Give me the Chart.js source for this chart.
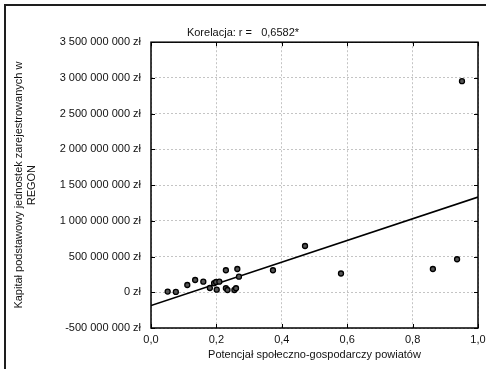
<!DOCTYPE html>
<html>
<head>
<meta charset="utf-8">
<script src="https://cdn.jsdelivr.net/npm/chart.js@4"></script>
<style>
  html, body { margin: 0; padding: 0; background: #fff; overflow: hidden; }
  #wrap { position: relative; width: 486px; height: 369px; }
  #frame {
    position: absolute; left: 4px; top: 4px; width: 600px; height: 600px;
    border-left: 2px solid #1e1e1e; border-top: 2px solid #1e1e1e;
    pointer-events: none;
  }
  canvas { position: absolute; left: 0; top: 0; }
</style>
</head>
<body>
<div id="wrap">
  <canvas id="chart" width="486" height="369"></canvas>
  <div id="frame"></div>
</div>
<script>
// potencjał społeczno-gospodarczy (oś X)
const potencjal = [0.051, 0.076, 0.111, 0.135, 0.160, 0.180, 0.193, 0.199, 0.209, 0.201,
  0.229, 0.229, 0.234, 0.255, 0.260, 0.264, 0.269, 0.373, 0.471, 0.581, 0.862, 0.936, 0.951];
// kapitał podstawowy w mln zł (oś Y)
const kapitalMln = [10, 5, 102, 172, 148, 60, 126, 144, 148, 36,
  308, 56, 32, 32, 56, 326, 218, 308, 648, 263, 326, 462, 2955];
// linia regresji, końce (mln zł)
const regresjaX = [0, 1];
const regresjaMln = [-185, 1333];

const xTicks = [0, 0.2, 0.4, 0.6, 0.8, 1.0];
const tytul = 'Korelacja: r =   0,6582*';

const punkty = potencjal.map((x, i) => ({ x: x, y: kapitalMln[i] * 1e6 }));
const linia = regresjaX.map((x, i) => ({ x: x, y: regresjaMln[i] * 1e6 }));

function zl(v) {
  const s = Math.abs(Math.round(v)).toString().replace(/\B(?=(\d{3})+(?!\d))/g, ' ');
  return (v < 0 ? '-' : '') + s + ' zł';
}

const font = { family: '"Liberation Sans", Arial, sans-serif', size: 11, weight: 'normal' };

// ramka wykresu + krótkie kreski podziałki do środka na wszystkich bokach
const boxPlugin = {
  id: 'box',
  afterDraw(chart) {
    const a = chart.chartArea;
    const ctx = chart.ctx;
    const xs = chart.scales.x, ys = chart.scales.y;
    ctx.save();
    ctx.strokeStyle = '#000';
    ctx.lineWidth = 1.5;
    ctx.strokeRect(a.left, a.top, a.right - a.left, a.bottom - a.top);
    ctx.lineWidth = 1;
    ctx.beginPath();
    xs.ticks.forEach(t => {
      const px = Math.round(xs.getPixelForValue(t.value)) + 0.5;
      ctx.moveTo(px, a.bottom); ctx.lineTo(px, a.bottom - 4);
      ctx.moveTo(px, a.top); ctx.lineTo(px, a.top + 4);
    });
    ys.ticks.forEach(t => {
      const py = Math.round(ys.getPixelForValue(t.value)) + 0.5;
      ctx.moveTo(a.left, py); ctx.lineTo(a.left + 4, py);
      ctx.moveTo(a.right, py); ctx.lineTo(a.right - 4, py);
    });
    ctx.stroke();
    ctx.restore();
  }
};

new Chart(document.getElementById('chart'), {
  type: 'scatter',
  data: {
    datasets: [
      {
        label: 'regresja',
        type: 'line',
        data: linia,
        borderColor: '#000',
        borderWidth: 1.6,
        pointRadius: 0,
        fill: false,
        order: 2
      },
      {
        label: 'powiaty',
        data: punkty,
        pointRadius: 2.5,
        pointBackgroundColor: '#555',
        pointBorderColor: '#000',
        pointBorderWidth: 1.3,
        order: 1
      }
    ]
  },
  options: {
    responsive: false,
    animation: false,
    layout: { padding: { left: 0, right: 0, top: 0, bottom: 0 } },
    plugins: {
      legend: { display: false },
      tooltip: { enabled: false },
      title: {
        display: true,
        text: tytul,
        color: '#111',
        font: font,
        padding: { top: 26, bottom: 3 }
      }
    },
    scales: {
      x: {
        type: 'linear',
        min: 0,
        max: 1,
        afterBuildTicks(scale) { scale.ticks = xTicks.map(v => ({ value: v })); },
        afterFit(scale) { scale.height = 41; scale.paddingRight = 8; },
        ticks: {
          color: '#111',
          font: font,
          padding: 5,
          maxRotation: 0,
          callback: v => v.toFixed(1).replace('.', ',')
        },
        grid: { color: '#c4c4c4', drawTicks: false },
        border: { display: false, dash: [2, 2] },
        title: {
          display: true,
          text: 'Potencjał społeczno-gospodarczy powiatów',
          color: '#111',
          font: font,
          padding: { top: 3, bottom: 7 }
        }
      },
      y: {
        type: 'linear',
        min: -5e8,
        max: 3.5e9,
        afterFit(scale) { scale.width = 151; },
        ticks: {
          stepSize: 5e8,
          color: '#111',
          font: font,
          padding: 10,
          callback: v => zl(v)
        },
        grid: { color: '#c4c4c4', drawTicks: false },
        border: { display: false, dash: [2, 2] },
        title: {
          display: true,
          text: ['Kapitał podstawowy jednostek zarejestrowanych w', 'REGON'],
          color: '#111',
          font: font,
          padding: { top: 12, bottom: 0 }
        }
      }
    }
  },
  plugins: [boxPlugin]
});
</script>
</body>
</html>
